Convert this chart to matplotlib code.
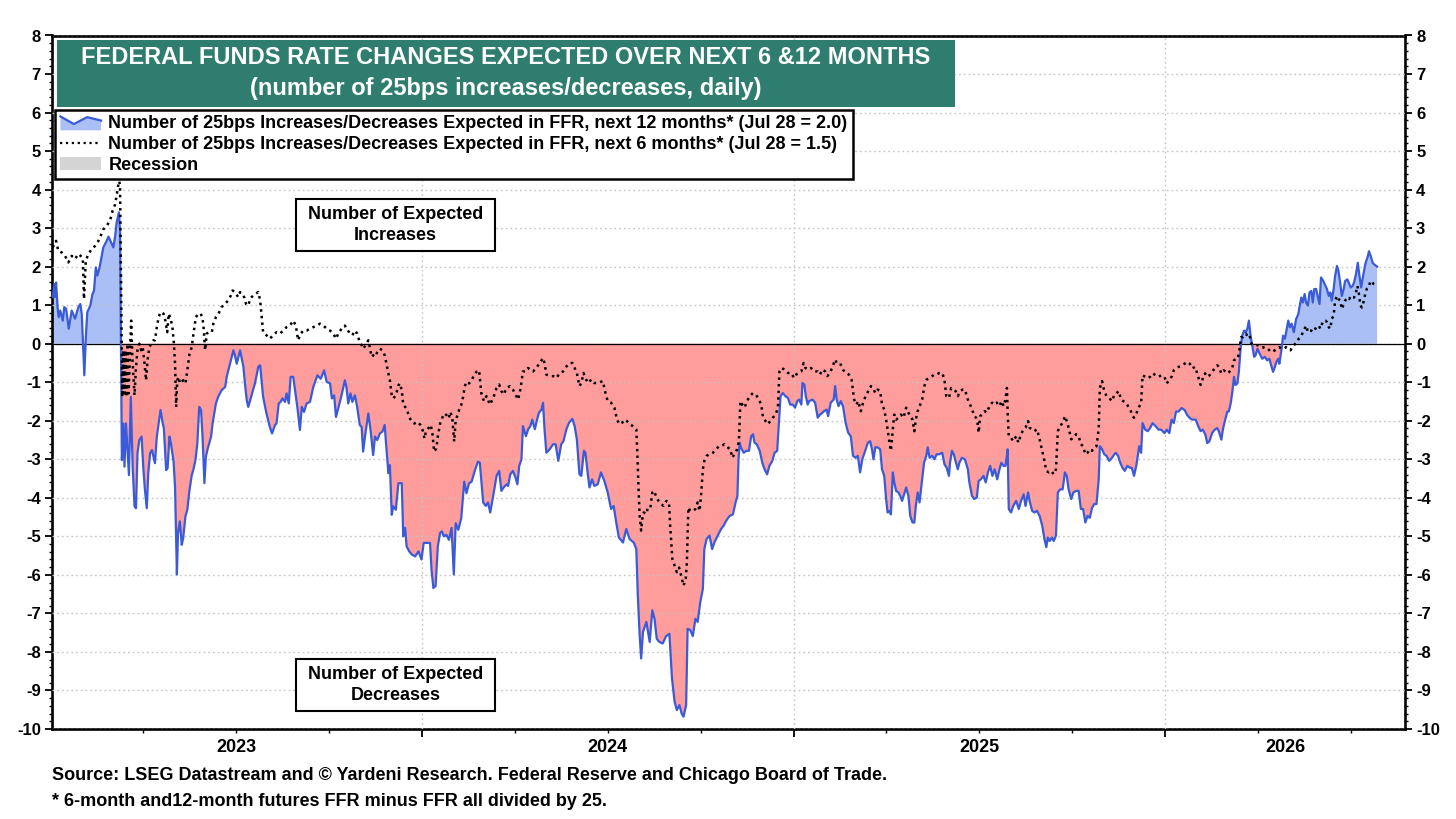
"""
Federal funds rate changes expected over the next 6 and 12 months (Yardeni style chart).
"""

import matplotlib
matplotlib.use("Agg")
import matplotlib.pyplot as plt
from matplotlib.patches import Patch, Rectangle, Polygon
from matplotlib.lines import Line2D
from matplotlib.legend_handler import HandlerBase
from matplotlib.ticker import MultipleLocator, FixedLocator, NullFormatter
import numpy as np

# ---------------------------------------------------------------- data
# x values are decimal years

t12 = [
  2023.007, 2023.011, 2023.013, 2023.016, 2023.020, 2023.023, 2023.027, 2023.034, 2023.038, 2023.043,
  2023.050, 2023.058, 2023.067, 2023.076, 2023.081, 2023.085, 2023.092, 2023.096, 2023.100, 2023.108,
  2023.114, 2023.118, 2023.123, 2023.127, 2023.133, 2023.138, 2023.143, 2023.152, 2023.157, 2023.166,
  2023.170, 2023.175, 2023.179, 2023.185, 2023.188, 2023.193, 2023.197, 2023.200, 2023.204, 2023.208,
  2023.212, 2023.217, 2023.222, 2023.227, 2023.231, 2023.235, 2023.240, 2023.246, 2023.251, 2023.255,
  2023.260, 2023.264, 2023.269, 2023.274, 2023.282, 2023.287, 2023.292, 2023.297, 2023.303, 2023.306,
  2023.312, 2023.316, 2023.321, 2023.325, 2023.332, 2023.336, 2023.341, 2023.344, 2023.349, 2023.354,
  2023.358, 2023.364, 2023.369, 2023.375, 2023.381, 2023.385, 2023.391, 2023.396, 2023.401, 2023.406,
  2023.410, 2023.415, 2023.419, 2023.424, 2023.433, 2023.437, 2023.446, 2023.452, 2023.461, 2023.471,
  2023.475, 2023.484, 2023.493, 2023.497, 2023.502, 2023.511, 2023.520, 2023.524, 2023.529, 2023.533,
  2023.542, 2023.551, 2023.560,
  2023.565, 2023.573, 2023.582, 2023.591, 2023.597, 2023.605, 2023.609, 2023.615, 2023.620, 2023.625,
  2023.632, 2023.636, 2023.642, 2023.647, 2023.654, 2023.660, 2023.666, 2023.672, 2023.677, 2023.683,
  2023.690, 2023.699, 2023.708, 2023.719, 2023.728, 2023.737, 2023.744, 2023.753, 2023.758, 2023.764,
  2023.769, 2023.776, 2023.783, 2023.789, 2023.793, 2023.797, 2023.802, 2023.808, 2023.813, 2023.820,
  2023.826, 2023.833, 2023.838, 2023.842, 2023.847, 2023.856, 2023.862, 2023.869, 2023.874, 2023.880,
  2023.887, 2023.894, 2023.900, 2023.905, 2023.910, 2023.914, 2023.919, 2023.923, 2023.930, 2023.937,
  2023.946, 2023.950, 2023.955, 2023.959, 2023.966, 2023.973, 2023.982, 2023.991, 2023.999,
  2024.005, 2024.013, 2024.022, 2024.026, 2024.031, 2024.037, 2024.043, 2024.049, 2024.054, 2024.059,
  2024.066, 2024.073, 2024.080, 2024.086, 2024.091, 2024.098, 2024.106, 2024.114, 2024.120, 2024.127,
  2024.134, 2024.143, 2024.151,
  2024.156, 2024.165, 2024.172, 2024.178, 2024.184, 2024.192, 2024.201, 2024.208, 2024.214, 2024.220,
  2024.228, 2024.232, 2024.238, 2024.245, 2024.252, 2024.257, 2024.262, 2024.268, 2024.272, 2024.280,
  2024.286, 2024.292, 2024.297, 2024.304, 2024.310, 2024.315, 2024.322, 2024.326, 2024.330, 2024.335,
  2024.344, 2024.353, 2024.360, 2024.367, 2024.375, 2024.381, 2024.389, 2024.396, 2024.405, 2024.411,
  2024.417, 2024.424, 2024.429, 2024.436, 2024.440, 2024.447, 2024.451, 2024.458, 2024.464, 2024.473,
  2024.482, 2024.491, 2024.500, 2024.509, 2024.516, 2024.523, 2024.530, 2024.541, 2024.550, 2024.559,
  2024.570, 2024.577, 2024.581, 2024.586, 2024.590, 2024.595, 2024.604, 2024.613, 2024.620, 2024.626,
  2024.632, 2024.639, 2024.648, 2024.657, 2024.666, 2024.673, 2024.680, 2024.686, 2024.693, 2024.699,
  2024.704, 2024.711, 2024.715, 2024.722, 2024.729, 2024.736, 2024.742, 2024.749, 2024.756, 2024.760,
  2024.766, 2024.774, 2024.781, 2024.787, 2024.796,
  2024.805, 2024.812, 2024.819, 2024.828, 2024.837, 2024.844, 2024.849, 2024.852, 2024.855, 2024.859,
  2024.866, 2024.873, 2024.880, 2024.886, 2024.891, 2024.895, 2024.901, 2024.909, 2024.916, 2024.922,
  2024.929, 2024.935, 2024.943, 2024.949, 2024.956, 2024.960, 2024.965, 2024.971, 2024.978, 2024.985,
  2024.991, 2024.998,
  2025.004, 2025.010, 2025.015, 2025.021, 2025.024, 2025.029, 2025.033, 2025.038,
  2025.042, 2025.051, 2025.058, 2025.065, 2025.071, 2025.078, 2025.082, 2025.089, 2025.093, 2025.100,
  2025.108, 2025.112, 2025.116, 2025.121, 2025.127, 2025.133, 2025.140, 2025.147, 2025.154, 2025.160,
  2025.167, 2025.173, 2025.179, 2025.185, 2025.191, 2025.200, 2025.206, 2025.211, 2025.215, 2025.220,
  2025.226, 2025.233, 2025.238, 2025.244, 2025.249, 2025.253, 2025.258, 2025.262, 2025.267, 2025.271,
  2025.276, 2025.282, 2025.287, 2025.292, 2025.296, 2025.303, 2025.309, 2025.314, 2025.320, 2025.325,
  2025.329, 2025.334,
  2025.339, 2025.346, 2025.351, 2025.357, 2025.361, 2025.366, 2025.373, 2025.379, 2025.385, 2025.392,
  2025.400, 2025.406, 2025.412, 2025.418, 2025.421, 2025.426, 2025.431, 2025.437, 2025.442, 2025.446,
  2025.453, 2025.461, 2025.469, 2025.473, 2025.480, 2025.486, 2025.493, 2025.498, 2025.504, 2025.511,
  2025.517, 2025.523, 2025.529, 2025.535, 2025.541, 2025.548, 2025.554, 2025.559, 2025.565, 2025.570,
  2025.574, 2025.576, 2025.579, 2025.585, 2025.591, 2025.599, 2025.606, 2025.612, 2025.619, 2025.624,
  2025.631, 2025.635, 2025.642, 2025.648, 2025.655, 2025.662, 2025.669, 2025.675, 2025.680, 2025.684,
  2025.689, 2025.695, 2025.700, 2025.706, 2025.711, 2025.717, 2025.724, 2025.730, 2025.735, 2025.740,
  2025.747, 2025.753, 2025.760, 2025.767, 2025.773, 2025.779, 2025.785, 2025.791, 2025.797, 2025.803,
  2025.809, 2025.815, 2025.821, 2025.824, 2025.830, 2025.836, 2025.842, 2025.849, 2025.857, 2025.863,
  2025.867, 2025.873, 2025.879, 2025.885, 2025.891, 2025.898, 2025.905, 2025.910, 2025.916, 2025.922,
  2025.930, 2025.935, 2025.939, 2025.946, 2025.953, 2025.959, 2025.966, 2025.975, 2025.982, 2025.989,
  2025.998,
  2026.004, 2026.011, 2026.017, 2026.023, 2026.029, 2026.036, 2026.044, 2026.052, 2026.059,
  2026.066, 2026.073, 2026.082, 2026.089, 2026.095, 2026.101, 2026.108, 2026.113, 2026.119, 2026.126,
  2026.133, 2026.140, 2026.144, 2026.151, 2026.155, 2026.160, 2026.167, 2026.171, 2026.176, 2026.180,
  2026.185, 2026.189, 2026.194, 2026.198, 2026.203, 2026.207, 2026.212, 2026.216, 2026.221, 2026.225,
  2026.230, 2026.234, 2026.239, 2026.243, 2026.248, 2026.254, 2026.261, 2026.268, 2026.274, 2026.280,
  2026.286, 2026.290, 2026.295, 2026.299, 2026.304, 2026.307, 2026.313, 2026.317, 2026.322, 2026.326,
  2026.331, 2026.335, 2026.340, 2026.346, 2026.352, 2026.358, 2026.361, 2026.366, 2026.370, 2026.375,
  2026.379, 2026.384, 2026.388, 2026.393, 2026.397, 2026.401, 2026.406, 2026.410, 2026.415, 2026.419,
  2026.425, 2026.431, 2026.435, 2026.440, 2026.444, 2026.448, 2026.453, 2026.457, 2026.462, 2026.466,
  2026.471, 2026.475, 2026.480, 2026.484, 2026.490, 2026.495, 2026.499, 2026.504, 2026.508, 2026.513,
  2026.518, 2026.522, 2026.527, 2026.533, 2026.539, 2026.545, 2026.548, 2026.553, 2026.558, 2026.562,
  2026.570,
]

v12 = [
  1.21, 1.55, 1.21, 1.59, 0.95, 0.69, 0.86, 0.60, 0.95, 0.91,
  0.39, 0.86, 0.65, 0.95, 1.03, 0.78, -0.82, 0.17, 0.82, 0.99,
  1.29, 1.38, 1.98, 1.77, 1.98, 2.24, 2.50, 2.67, 2.78, 2.59,
  2.50, 2.80, 3.15, 3.41, 2.93, -3.02, -2.07, -3.19, -2.07, -2.76,
  -3.41, -1.38, -3.19, -4.22, -4.27, -2.84, -2.50, -2.41, -3.28, -3.79,
  -4.27, -3.36, -2.84, -2.76, -3.10, -2.41, -2.07, -1.72, -2.07, -2.20,
  -3.28, -3.23, -2.41, -2.59, -3.06, -3.71, -5.99, -4.91, -4.61, -5.22,
  -5.04, -4.48, -4.31, -3.79, -3.41, -3.28, -3.02, -2.59, -1.64, -1.72,
  -2.41, -3.62, -2.93, -2.72, -2.41, -2.07, -1.55, -1.38, -1.21, -1.12,
  -0.86, -0.52, -0.17, -0.30, -0.52, -0.17, -0.60, -1.03, -1.47, -1.64,
  -1.34, -1.03, -0.60,
  -0.56, -1.38, -1.81, -2.16, -2.33, -2.11, -2.07, -1.55, -1.51, -1.42,
  -1.51, -1.29, -1.55, -0.86, -0.86, -1.29, -1.72, -2.24, -1.64, -1.77,
  -1.55, -1.51, -1.12, -0.82, -0.91, -0.69, -0.99, -1.03, -1.42, -1.34,
  -1.90, -1.64, -1.38, -1.12, -0.95, -1.12, -1.55, -1.29, -1.51, -1.34,
  -1.64, -2.11, -2.16, -2.80, -2.41, -1.81, -2.24, -2.89, -2.41, -2.50,
  -2.33, -2.28, -2.11, -2.76, -3.36, -3.15, -4.44, -4.22, -4.31, -3.62,
  -3.62, -5.00, -4.78, -5.26, -5.39, -5.47, -5.52, -5.39, -5.60,
  -5.17, -5.17, -5.17, -5.86, -6.34, -6.29, -5.26, -4.91, -4.87, -5.00,
  -4.96, -5.09, -4.78, -5.99, -4.66, -4.83, -4.53, -3.58, -3.88, -3.62,
  -3.58, -3.28, -3.06,
  -3.09, -4.12, -4.21, -4.12, -4.38, -3.95, -3.43, -3.30, -3.82, -3.73,
  -3.65, -3.69, -3.39, -3.30, -3.47, -3.65, -3.17, -3.00, -2.14, -2.40,
  -2.22, -2.14, -1.97, -2.22, -1.97, -1.79, -1.71, -1.53, -2.22, -2.83,
  -2.74, -2.61, -2.61, -3.04, -2.61, -2.53, -2.22, -2.05, -1.95, -2.14,
  -2.48, -3.39, -3.43, -2.78, -2.83, -3.43, -3.73, -3.52, -3.69, -3.65,
  -3.34, -3.56, -3.86, -4.29, -4.21, -4.64, -5.03, -5.16, -4.81, -5.07,
  -5.16, -5.33, -6.53, -7.57, -8.17, -7.48, -7.22, -7.74, -6.92, -7.14,
  -7.66, -7.74, -7.78, -7.59, -7.53, -8.69, -9.29, -9.51, -9.38, -9.60,
  -9.68, -9.38, -7.40, -7.43, -7.59, -7.14, -7.22, -6.71, -6.36, -5.33,
  -5.07, -4.98, -5.33, -5.16, -4.98,
  -4.81, -4.72, -4.59, -4.47, -4.43, -4.12, -3.95, -3.00, -2.57, -2.71,
  -2.83, -2.78, -2.78, -2.40, -2.35, -2.57, -2.61, -2.78, -3.09, -3.26,
  -3.39, -3.17, -3.04, -2.83, -2.78, -2.14, -1.36, -1.28, -1.36, -1.41,
  -1.58, -1.58,
  -1.66, -1.49, -1.45, -1.58, -1.02, -1.06, -1.36, -1.58,
  -1.49, -1.45, -1.53, -1.92, -1.84, -1.79, -1.75, -1.71, -1.88, -1.53,
  -1.45, -1.10, -1.45, -1.62, -1.49, -1.62, -2.05, -2.31, -2.40, -2.91,
  -2.96, -2.91, -3.34, -3.00, -2.83, -2.57, -2.53, -2.74, -3.00, -2.69,
  -2.69, -2.74, -3.26, -3.43, -4.03, -4.38, -4.34, -4.43, -3.34, -3.60,
  -3.82, -3.86, -3.95, -4.08, -3.95, -3.73, -3.95, -4.47, -4.64, -4.64,
  -4.21, -3.86,
  -4.12, -3.52, -3.09, -2.91, -2.69, -2.96, -2.91, -3.00, -2.87, -2.87,
  -2.83, -3.13, -3.22, -3.43, -3.09, -2.78, -2.87, -3.09, -3.26, -3.09,
  -2.96, -3.00, -3.26, -3.60, -3.95, -4.03, -3.99, -3.56, -3.52, -3.43,
  -3.60, -3.34, -3.17, -3.43, -3.26, -3.52, -3.26, -3.09, -3.17, -3.17,
  -2.91, -2.74, -4.29, -4.38, -4.21, -4.08, -4.29, -4.08, -3.91, -4.21,
  -3.86, -4.08, -4.34, -4.38, -4.34, -4.47, -4.72, -5.07, -5.28, -5.03,
  -5.12, -5.03, -5.12, -4.98, -3.86, -3.78, -3.78, -3.34, -3.43, -3.78,
  -4.03, -3.86, -3.82, -3.82, -4.29, -4.29, -4.64, -4.47, -4.52, -4.26,
  -4.16, -4.16, -3.52, -2.66, -2.74, -2.87, -2.91, -3.04, -2.96, -2.87,
  -2.83, -2.91, -3.09, -3.22, -3.30, -3.17, -3.22, -3.22, -3.43, -3.17,
  -2.66, -2.83, -2.06, -2.23, -2.27, -2.19, -2.06, -2.15, -2.23, -2.23,
  -2.32,
  -2.23, -2.32, -1.97, -2.06, -1.76, -1.76, -1.67, -1.72, -1.85,
  -1.93, -1.97, -1.97, -2.15, -2.27, -2.23, -2.36, -2.58, -2.53, -2.32,
  -2.23, -2.19, -2.27, -2.49, -2.23, -2.02, -1.76, -1.76, -1.55, -1.29,
  -0.86, -1.07, -1.03, -0.73, -0.09, 0.21, 0.34, 0.30, 0.39, 0.60,
  0.17, -0.04, -0.34, -0.30, -0.13, -0.26, -0.39, -0.34, -0.43, -0.39,
  -0.60, -0.73, -0.60, -0.47, -0.39, -0.52, -0.13, 0.21, 0.13, 0.34,
  0.60, 0.43, 0.52, 0.30, 0.64, 0.77, 0.94, 1.20, 1.07, 1.29,
  1.07, 0.99, 1.33, 1.37, 1.07, 1.42, 1.42, 1.24, 1.03, 1.72,
  1.63, 1.50, 1.42, 1.24, 1.33, 1.12, 1.42, 1.76, 2.02, 1.89,
  1.55, 1.24, 1.42, 1.63, 1.67, 1.55, 1.46, 1.50, 1.59, 1.80,
  2.10, 1.80, 1.46, 1.80, 2.10, 2.27, 2.40, 2.27, 2.10, 2.06,
  2.00,
]

t6 = [
  2023.007, 2023.016, 2023.022, 2023.031, 2023.040, 2023.049, 2023.058, 2023.067, 2023.076, 2023.082,
  2023.088, 2023.091, 2023.096, 2023.103, 2023.112, 2023.121, 2023.130, 2023.136, 2023.143, 2023.152,
  2023.161, 2023.168, 2023.175, 2023.181, 2023.185, 2023.188, 2023.194, 2023.197, 2023.200, 2023.203,
  2023.205, 2023.208, 2023.211, 2023.215, 2023.218, 2023.221, 2023.227, 2023.231, 2023.235, 2023.240,
  2023.245, 2023.249, 2023.254, 2023.258, 2023.262, 2023.267, 2023.272, 2023.278, 2023.282, 2023.287,
  2023.292, 2023.297, 2023.305, 2023.310, 2023.315, 2023.319, 2023.324, 2023.329, 2023.333, 2023.336,
  2023.339, 2023.342, 2023.346, 2023.349, 2023.354, 2023.358, 2023.364, 2023.369, 2023.375, 2023.381,
  2023.385, 2023.392, 2023.399, 2023.405, 2023.409, 2023.412, 2023.417, 2023.421, 2023.427, 2023.435,
  2023.439, 2023.446, 2023.453, 2023.461, 2023.470, 2023.479, 2023.486, 2023.491, 2023.497, 2023.506,
  2023.511, 2023.515, 2023.522, 2023.527, 2023.533, 2023.538, 2023.542, 2023.551, 2023.560, 2023.565,
  2023.573, 2023.582, 2023.591, 2023.600, 2023.609, 2023.618, 2023.627, 2023.636, 2023.645, 2023.654,
  2023.661, 2023.667, 2023.674, 2023.681, 2023.690, 2023.699, 2023.708, 2023.717, 2023.726, 2023.735,
  2023.744, 2023.753, 2023.762, 2023.769, 2023.775, 2023.784, 2023.793, 2023.799, 2023.806, 2023.813,
  2023.820, 2023.826, 2023.833, 2023.838, 2023.842, 2023.849, 2023.856, 2023.860, 2023.865, 2023.869,
  2023.874, 2023.880, 2023.887, 2023.894, 2023.900, 2023.905, 2023.909, 2023.914, 2023.919, 2023.923,
  2023.930, 2023.937, 2023.941, 2023.946, 2023.950, 2023.955, 2023.959, 2023.966, 2023.973, 2023.980,
  2023.989, 2023.996,
  2024.002, 2024.007, 2024.011, 2024.020, 2024.024, 2024.029, 2024.033, 2024.039, 2024.043, 2024.049,
  2024.056, 2024.061, 2024.066, 2024.072, 2024.077, 2024.082, 2024.087, 2024.091, 2024.098, 2024.102,
  2024.106, 2024.111, 2024.115, 2024.120, 2024.127, 2024.134, 2024.140, 2024.147, 2024.154,
  2024.160, 2024.167, 2024.174, 2024.183, 2024.192, 2024.201, 2024.208, 2024.214, 2024.220, 2024.228,
  2024.237, 2024.245, 2024.252, 2024.259, 2024.265, 2024.272, 2024.280, 2024.286, 2024.292, 2024.299,
  2024.308, 2024.317, 2024.326, 2024.330, 2024.335, 2024.344, 2024.353, 2024.362, 2024.371, 2024.380,
  2024.389, 2024.398, 2024.405, 2024.411, 2024.417, 2024.424, 2024.429, 2024.435, 2024.440, 2024.447,
  2024.456, 2024.464, 2024.473, 2024.487, 2024.494, 2024.500, 2024.509, 2024.518, 2024.525, 2024.532,
  2024.539, 2024.545, 2024.552, 2024.559, 2024.568, 2024.577, 2024.580, 2024.583, 2024.586, 2024.590,
  2024.593, 2024.597, 2024.604, 2024.608, 2024.615, 2024.620, 2024.625, 2024.631, 2024.637, 2024.644,
  2024.650, 2024.658, 2024.665, 2024.668, 2024.674, 2024.680, 2024.686, 2024.692, 2024.698, 2024.704,
  2024.710, 2024.713, 2024.717, 2024.722, 2024.729, 2024.736, 2024.742, 2024.747, 2024.751, 2024.756,
  2024.760, 2024.766, 2024.774, 2024.783, 2024.792, 2024.799,
  2024.805, 2024.814, 2024.823, 2024.830, 2024.835, 2024.841, 2024.848, 2024.853, 2024.857, 2024.862,
  2024.868, 2024.875, 2024.882, 2024.891, 2024.898, 2024.905, 2024.913, 2024.918, 2024.925, 2024.931,
  2024.937, 2024.944, 2024.952, 2024.958, 2024.962, 2024.967, 2024.976, 2024.985, 2024.994,
  2025.001, 2025.007, 2025.014, 2025.021, 2025.027, 2025.032, 2025.038, 2025.047, 2025.056, 2025.065,
  2025.071, 2025.078, 2025.085, 2025.091, 2025.098, 2025.105, 2025.112, 2025.118, 2025.127, 2025.133,
  2025.140, 2025.149, 2025.156, 2025.163, 2025.169, 2025.174, 2025.181, 2025.187, 2025.194, 2025.201,
  2025.208, 2025.214, 2025.220, 2025.226, 2025.233, 2025.238, 2025.244, 2025.249, 2025.253, 2025.258,
  2025.262, 2025.267, 2025.271, 2025.276, 2025.282, 2025.289, 2025.296, 2025.303, 2025.309, 2025.314,
  2025.320, 2025.325, 2025.329, 2025.334,
  2025.346, 2025.352, 2025.358, 2025.366, 2025.373, 2025.379, 2025.385, 2025.392, 2025.400, 2025.406,
  2025.411, 2025.418, 2025.424, 2025.430, 2025.436, 2025.442, 2025.448, 2025.455, 2025.461, 2025.469,
  2025.475, 2025.482, 2025.486, 2025.491, 2025.495, 2025.498, 2025.502, 2025.507, 2025.514, 2025.520,
  2025.527, 2025.534, 2025.540, 2025.547, 2025.554, 2025.560, 2025.565, 2025.570, 2025.574, 2025.576,
  2025.579, 2025.585, 2025.591, 2025.599, 2025.605, 2025.612, 2025.619, 2025.624, 2025.631, 2025.635,
  2025.642, 2025.648, 2025.655, 2025.662, 2025.669, 2025.675, 2025.680, 2025.687, 2025.693, 2025.700,
  2025.706, 2025.711, 2025.717, 2025.724, 2025.730, 2025.735, 2025.740, 2025.747, 2025.753, 2025.760,
  2025.767, 2025.773, 2025.779, 2025.785, 2025.791, 2025.797, 2025.803, 2025.809, 2025.815, 2025.821,
  2025.824, 2025.830, 2025.836, 2025.842, 2025.849, 2025.857, 2025.863, 2025.869, 2025.875, 2025.881,
  2025.887, 2025.894, 2025.900, 2025.906, 2025.912, 2025.916, 2025.923, 2025.928,
  2025.935, 2025.939, 2025.946, 2025.953, 2025.959, 2025.966, 2025.975, 2025.982, 2025.989, 2025.998,
  2026.004, 2026.011, 2026.017, 2026.023, 2026.029, 2026.036, 2026.044, 2026.052, 2026.059, 2026.066,
  2026.073, 2026.080, 2026.086, 2026.091, 2026.095, 2026.101, 2026.107, 2026.113, 2026.119, 2026.126,
  2026.133, 2026.140, 2026.144, 2026.151, 2026.157, 2026.164, 2026.169, 2026.176, 2026.180, 2026.185,
  2026.191, 2026.195, 2026.200, 2026.204, 2026.209, 2026.213, 2026.217, 2026.223, 2026.227, 2026.232,
  2026.239, 2026.245, 2026.250, 2026.256, 2026.263, 2026.270, 2026.277, 2026.283, 2026.287, 2026.295,
  2026.301, 2026.307, 2026.313, 2026.319, 2026.325, 2026.331, 2026.337, 2026.341, 2026.346, 2026.350,
  2026.355, 2026.359, 2026.365, 2026.370, 2026.375, 2026.379, 2026.384, 2026.388, 2026.393, 2026.397,
  2026.401, 2026.406, 2026.413, 2026.417, 2026.422, 2026.426, 2026.431, 2026.435, 2026.440, 2026.444,
  2026.448, 2026.453, 2026.457, 2026.462, 2026.466, 2026.471, 2026.475, 2026.480, 2026.484, 2026.490,
  2026.495, 2026.499, 2026.504, 2026.508, 2026.513, 2026.517, 2026.522, 2026.525, 2026.529, 2026.533,
  2026.538, 2026.542, 2026.547, 2026.551, 2026.556, 2026.560, 2026.570,
]

v6 = [
  2.50, 2.67, 2.41, 2.37, 2.28, 2.11, 2.28, 2.20, 2.33, 2.28,
  2.20, 1.16, 2.16, 2.33, 2.46, 2.54, 2.67, 2.80, 2.97, 3.06,
  3.19, 3.45, 3.62, 3.97, 4.22, 4.14, -1.38, -0.17, -1.29, -0.17,
  -1.38, 0.00, -1.29, -0.17, 0.60, -0.34, -1.34, -0.60, -0.17, 0.00,
  -0.17, -0.09, -0.52, -0.95, -0.43, -0.09, 0.00, 0.09, 0.09, 0.43,
  0.69, 0.82, 0.78, 0.60, 0.30, 0.78, 0.65, 0.43, 0.00, -0.52,
  -1.64, -0.95, -0.86, -1.03, -0.99, -0.95, -1.03, -0.69, -0.26, -0.09,
  0.22, 0.69, 0.78, 0.78, 0.69, 0.52, -0.17, 0.26, 0.30, 0.30,
  0.52, 0.69, 0.78, 0.95, 1.03, 1.12, 1.25, 1.38, 1.34, 1.21,
  1.34, 1.29, 1.21, 1.03, 0.99, 1.16, 1.21, 1.29, 1.34, 1.12,
  0.30, 0.22, 0.13, 0.22, 0.30, 0.26, 0.34, 0.43, 0.47, 0.60,
  0.47, 0.09, 0.26, 0.34, 0.34, 0.39, 0.43, 0.47, 0.52, 0.47,
  0.39, 0.34, 0.26, 0.13, 0.26, 0.39, 0.47, 0.34, 0.30, 0.22,
  0.34, 0.26, 0.04, -0.04, -0.13, -0.04, 0.09, -0.09, -0.34, -0.30,
  -0.34, -0.22, -0.13, -0.17, -0.30, -0.52, -0.73, -0.95, -1.34, -1.42,
  -1.34, -1.08, -1.03, -1.21, -1.59, -1.64, -1.68, -1.90, -2.03, -2.07,
  -2.03, -2.11,
  -2.24, -2.46, -2.28, -2.16, -2.11, -2.37, -2.80, -2.72, -2.41, -2.07,
  -1.90, -1.81, -1.85, -1.94, -1.77, -1.94, -2.54, -1.98, -1.81, -1.64,
  -1.59, -1.38, -1.12, -0.99, -1.03, -0.95, -0.82, -0.73, -0.69,
  -1.28, -1.49, -1.36, -1.58, -1.41, -1.15, -1.06, -1.23, -1.32, -1.15,
  -1.10, -1.19, -1.32, -1.45, -1.19, -0.72, -0.72, -0.63, -0.67, -0.72,
  -0.63, -0.50, -0.37, -0.50, -0.80, -0.84, -0.84, -0.89, -0.76, -0.72,
  -0.59, -0.50, -0.50, -0.63, -0.76, -1.10, -1.02, -0.76, -0.89, -1.02,
  -0.93, -1.02, -1.02, -0.97, -1.28, -1.49, -1.53, -1.66, -1.97, -2.09,
  -2.05, -1.97, -2.01, -2.09, -2.14, -2.22, -2.91, -3.78, -4.47, -4.85,
  -4.55, -4.38, -4.42, -4.25, -4.25, -3.86, -3.82, -3.99, -4.08, -4.16,
  -4.21, -4.08, -4.12, -4.72, -5.59, -5.76, -5.93, -5.81, -6.03, -6.28,
  -6.10, -5.67, -4.25, -4.34, -4.34, -4.29, -4.12, -4.34, -3.95, -3.26,
  -3.04, -2.91, -2.87, -2.83, -2.74, -2.66,
  -2.66, -2.61, -2.69, -2.74, -2.96, -2.87, -2.74, -2.53, -1.49, -1.58,
  -1.66, -1.49, -1.36, -1.28, -1.32, -1.41, -1.58, -1.92, -2.01, -2.09,
  -2.01, -1.92, -1.84, -1.66, -0.72, -0.63, -0.67, -0.76, -0.76,
  -0.89, -0.80, -0.76, -0.72, -0.50, -0.63, -0.67, -0.63, -0.72, -0.72,
  -0.80, -0.67, -0.72, -0.84, -0.76, -0.59, -0.41, -0.54, -0.54, -0.67,
  -0.76, -0.80, -0.93, -1.45, -1.58, -1.49, -1.75, -1.53, -1.36, -1.23,
  -1.10, -1.15, -1.28, -1.19, -1.23, -1.58, -1.71, -1.97, -2.22, -2.57,
  -2.78, -2.22, -1.84, -1.97, -1.92, -1.84, -1.92, -1.66, -1.79, -1.88,
  -1.97, -2.27, -1.97, -1.75,
  -1.45, -1.10, -0.93, -0.89, -0.84, -0.80, -0.80, -0.76, -0.76, -0.93,
  -1.36, -1.41, -1.15, -1.19, -1.23, -1.36, -1.23, -1.19, -1.19, -1.45,
  -1.58, -1.75, -1.88, -1.92, -2.05, -2.31, -1.88, -1.84, -1.75, -1.79,
  -1.62, -1.53, -1.58, -1.53, -1.62, -1.49, -1.62, -1.45, -1.15, -1.79,
  -2.40, -2.44, -2.53, -2.40, -2.57, -2.35, -2.22, -2.18, -2.01, -2.18,
  -2.22, -2.27, -2.22, -2.48, -2.78, -3.04, -3.30, -3.34, -3.30, -3.39,
  -3.26, -2.27, -2.14, -2.05, -1.88, -2.01, -2.18, -2.48, -2.44, -2.35,
  -2.40, -2.61, -2.66, -2.87, -2.83, -2.74, -2.78, -2.69, -2.66, -2.22,
  -1.15, -0.97, -1.23, -1.36, -1.41, -1.49, -1.32, -1.28, -1.23, -1.45,
  -1.49, -1.53, -1.62, -1.71, -1.88, -1.92, -1.79, -1.66,
  -1.55, -0.82, -0.86, -0.90, -0.86, -0.77, -0.82, -0.86, -0.82, -0.86,
  -1.03, -0.94, -0.86, -0.69, -0.64, -0.60, -0.56, -0.52, -0.47, -0.52,
  -0.64, -0.60, -0.77, -0.94, -1.07, -0.90, -0.77, -0.86, -0.82, -0.73,
  -0.64, -0.56, -0.60, -0.77, -0.69, -0.73, -0.77, -0.69, -0.64, -0.43,
  -0.39, -0.39, -0.13, 0.17, 0.17, 0.21, 0.26, 0.17, 0.21, 0.00,
  -0.04, -0.04, -0.04, -0.09, -0.09, -0.13, -0.13, -0.21, -0.21, -0.17,
  -0.13, -0.09, -0.13, -0.13, -0.09, -0.13, -0.17, -0.09, -0.04, 0.00,
  0.04, 0.13, 0.17, 0.30, 0.39, 0.47, 0.30, 0.34, 0.34, 0.30,
  0.34, 0.43, 0.47, 0.39, 0.52, 0.60, 0.60, 0.56, 0.43, 0.39,
  0.64, 0.73, 1.12, 1.24, 1.16, 1.12, 0.90, 1.03, 1.12, 1.20,
  1.16, 1.24, 1.20, 1.20, 1.33, 1.50, 1.24, 0.99, 0.94, 1.07,
  1.29, 1.42, 1.46, 1.59, 1.63, 1.55, 1.50,
]

year_labels = ["2023", "2024", "2025", "2026"]

label_12m = "Number of 25bps Increases/Decreases Expected in FFR, next 12 months* (Jul 28 = 2.0)"
label_6m = "Number of 25bps Increases/Decreases Expected in FFR, next 6 months* (Jul 28 = 1.5)"

# ---------------------------------------------------------------- style
BLUE_LINE = "#3a5ad8"
BLUE_FILL = "#a9bff6"
RED_FILL = "#ff9c9c"
TEAL = "#2f7d6e"
GRID = "#c4c4c4"

plt.rcParams["font.family"] = ["Liberation Sans", "DejaVu Sans"]
plt.rcParams["font.weight"] = "bold"
plt.rcParams["axes.unicode_minus"] = False


class AreaLineHandler(HandlerBase):
  """Legend key: a small filled area with a zig-zag line along its top."""

  def create_artists(self, legend, orig_handle, xdescent, ydescent, width, height, fontsize, trans):
    x0, y0 = -xdescent, -ydescent - 0.15 * height
    h = height * 1.1
    xs = [x0, x0 + width * 0.33, x0 + width * 0.66, x0 + width]
    ys = [y0 + h, y0 + h * 0.45, y0 + h * 0.95, y0 + h * 0.7]
    area = Polygon([(x0, y0)] + list(zip(xs, ys)) + [(x0 + width, y0)], closed=True,
                   facecolor=BLUE_FILL, edgecolor="none", transform=trans)
    line = Line2D(xs, ys, color=BLUE_LINE, lw=1.6, transform=trans)
    return [area, line]


W, H = 1456, 819
figure = plt.figure(figsize=(W / 100, H / 100), dpi=100)
axes = figure.add_axes([52 / W, 1 - 729 / H, (1405 - 52) / W, (729 - 35.5) / H])

x12 = np.array(t12)
y12 = np.array(v12)
x6 = np.array(t6)
y6 = np.array(v6)

axes.fill_between(x12, y12, 0, where=y12 >= 0, interpolate=True, color=BLUE_FILL, lw=0, zorder=1)
axes.fill_between(x12, y12, 0, where=y12 <= 0, interpolate=True, color=RED_FILL, lw=0, zorder=1)
axes.plot(x12, y12, color=BLUE_LINE, lw=1.6, zorder=3)
axes.plot(x6, y6, color="black", lw=1.8, ls=":", zorder=4)
axes.axhline(0, color="black", lw=0.9, zorder=2.8)

axes.set_xlim(2023.005, 2026.645)
axes.set_ylim(-10, 8)

# grid and ticks
axes.set_axisbelow(False)
axes.yaxis.set_major_locator(MultipleLocator(1))
axes.yaxis.set_minor_locator(MultipleLocator(0.2))
axes.xaxis.set_major_locator(FixedLocator([2024, 2025, 2026]))
axes.xaxis.set_minor_locator(FixedLocator([2023.25, 2023.5, 2023.75, 2024.25, 2024.5, 2024.75,
                                           2025.25, 2025.5, 2025.75, 2026.25, 2026.5]))
axes.xaxis.set_major_formatter(NullFormatter())
axes.grid(True, which="major", axis="both", color=GRID, ls=(0, (1.2, 2.2)), lw=1.0, zorder=2.5)

axes.tick_params(axis="y", which="both", left=True, right=True, labelleft=True, labelright=True,
                 direction="out", labelsize=12, pad=3)
axes.tick_params(axis="y", which="major", length=5, width=1.3)
axes.tick_params(axis="y", which="minor", length=2.5, width=1.0)
axes.tick_params(axis="x", which="major", direction="out", length=6, width=1.3)
axes.tick_params(axis="x", which="minor", direction="out", length=3, width=1.0)
for lab in axes.get_yticklabels(which="both"):
  lab.set_fontweight("bold")

for spine in axes.spines.values():
  spine.set_linewidth(1.9)

# year labels centred on the visible part of each year
x_left, x_right = axes.get_xlim()
for name in year_labels:
  start = max(int(name), x_left)
  end = min(int(name) + 1, x_right)
  axes.text((start + end) / 2, -0.027, name, transform=axes.get_xaxis_transform(),
            ha="center", va="center", fontsize=13, fontweight="bold")

# title box
figure.patches.append(Rectangle((57 / W, 1 - 107 / H), (955 - 57) / W, (107 - 40) / H,
                                transform=figure.transFigure, facecolor=TEAL, edgecolor="none", zorder=5))
figure.text(506 / W, 1 - 57 / H, "FEDERAL FUNDS RATE CHANGES EXPECTED OVER NEXT 6 &12 MONTHS",
            ha="center", va="center", color="white", fontsize=17, fontweight="bold", zorder=6)
figure.text(506 / W, 1 - 88 / H, "(number of 25bps increases/decreases, daily)",
            ha="center", va="center", color="white", fontsize=17, fontweight="bold", zorder=6)

# legend
area_key = Patch(facecolor=BLUE_FILL)
handles = [
  area_key,
  Line2D([], [], color="black", lw=1.6, ls=":"),
  Patch(facecolor="#d4d4d4", edgecolor="none"),
]
legend = axes.legend(handles, [label_12m, label_6m, "Recession"], loc="upper left",
                     bbox_to_anchor=(55 / W, 1 - 110 / H), bbox_transform=figure.transFigure,
                     frameon=True, fancybox=False, edgecolor="black", framealpha=1,
                     borderaxespad=0, borderpad=0.3, labelspacing=0.2, handlelength=2.25,
                     handletextpad=0.4, handler_map={area_key: AreaLineHandler()},
                     prop={"size": 13.0, "weight": "bold"})
legend.get_frame().set_linewidth(1.8)
legend.set_zorder(10)

# annotation boxes
box = dict(boxstyle="square,pad=0.4", facecolor="white", edgecolor="black", lw=1.5)
axes.text(2023.929, 3.08, " Number of Expected \nIncreases", ha="center", va="center",
          fontsize=13, fontweight="bold", bbox=box, zorder=9, linespacing=1.3)
axes.text(2023.929, -8.86, " Number of Expected \nDecreases", ha="center", va="center",
          fontsize=13, fontweight="bold", bbox=box, zorder=9, linespacing=1.3)

# footer
figure.text(52 / W, 1 - 776 / H,
            "Source: LSEG Datastream and \u00a9 Yardeni Research. Federal Reserve and Chicago Board of Trade.",
            ha="left", va="center", fontsize=13, fontweight="bold")
figure.text(52 / W, 1 - 801 / H, "* 6-month and12-month futures FFR minus FFR all divided by 25.",
            ha="left", va="center", fontsize=13, fontweight="bold")

figure.savefig("out.png", dpi=100)
plt.close(figure)
